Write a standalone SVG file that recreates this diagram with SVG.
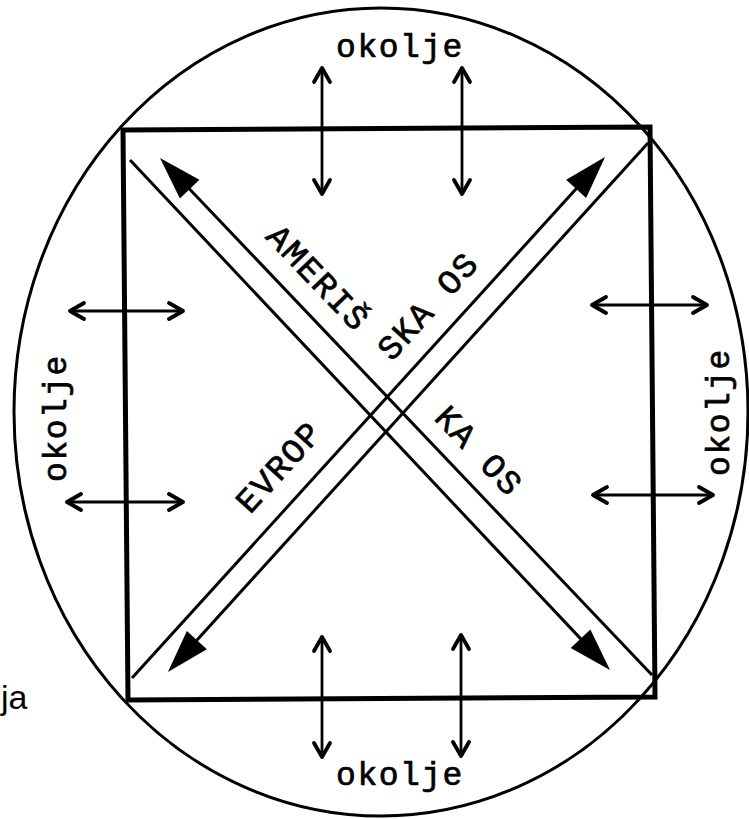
<svg xmlns="http://www.w3.org/2000/svg" width="749" height="819" viewBox="0 0 749 819">
  <style>
    .outline { fill: none; stroke: #000; }
    .axis { fill: none; stroke: #000; stroke-width: 3; marker-end: url(#bigHead); }
    .env { fill: none; stroke: #000; stroke-width: 2.8; marker-start: url(#chev); marker-end: url(#chev); }
    .mono { font-family: "Liberation Mono", "DejaVu Sans Mono", monospace; fill: #000; stroke: #000; stroke-width: 0.7px; }
    .okolje { font-size: 33px; letter-spacing: 1.5px; }
    .axlabel { font-size: 34px; letter-spacing: 1.6px; }
    .sans { font-family: "Liberation Sans", Arial, sans-serif; font-size: 34px; fill: #000; }
  </style>
  <defs>
    <marker id="bigHead" markerUnits="userSpaceOnUse" markerWidth="50" markerHeight="30" refX="23" refY="13.5" orient="auto" overflow="visible">
      <path d="M0,0 L43,13.5 L0,27 Z" fill="#000"/>
    </marker>
    <marker id="chev" markerUnits="userSpaceOnUse" markerWidth="24" markerHeight="24" refX="16" refY="10" orient="auto-start-reverse" overflow="visible">
      <path d="M2,2 L16,10 L2,18" fill="none" stroke="#000" stroke-width="3.8" stroke-linejoin="round" stroke-linecap="round"/>
    </marker>
  </defs>
  <rect width="749" height="819" fill="#fff"/>

  <g id="environment-boundary">
    <ellipse class="outline" cx="381" cy="412" rx="367" ry="404" stroke-width="3"/>
  </g>

  <g id="system-square">
    <polygon class="outline" points="123,130 650,127 655,697 128,700" stroke-width="5" stroke-linejoin="miter"/>
  </g>

  <g id="connectors">
    <g id="axes">
      <path class="axis" d="M652,675 L173.8,172.5"/>
      <path class="axis" d="M130,160 L596.3,655.4"/>
      <path class="axis" d="M132,678 L591.6,171.8"/>
      <path class="axis" d="M648,143 L181.4,657.2"/>
    </g>
    <g id="environment-arrows">
      <path class="env" d="M322,68 L322,194"/>
      <path class="env" d="M462,68 L462,194"/>
      <path class="env" d="M322,637 L322,757"/>
      <path class="env" d="M461,635 L461,756"/>
      <path class="env" d="M70,311 L183,311"/>
      <path class="env" d="M67,502 L183,502"/>
      <path class="env" d="M592,305 L707,305"/>
      <path class="env" d="M593,495 L713,495"/>
    </g>
  </g>

  <g id="label-okolje-top">
    <text class="mono okolje" x="400" y="57" text-anchor="middle">okolje</text>
  </g>
  <g id="label-okolje-bottom">
    <text class="mono okolje" x="400" y="785" text-anchor="middle">okolje</text>
  </g>
  <g id="label-okolje-left">
    <text class="mono okolje" transform="translate(66,418) rotate(-90)" x="0" y="0" text-anchor="middle">okolje</text>
  </g>
  <g id="label-okolje-right">
    <text class="mono okolje" transform="translate(729,412) rotate(-90)" x="0" y="0" text-anchor="middle">okolje</text>
  </g>

  <g id="label-americka-os">
    <text class="mono axlabel" transform="translate(318,278) rotate(46.4)" x="0" y="11" text-anchor="middle">AMERIŠ</text>
    <text class="mono axlabel" transform="translate(479,451) rotate(46.4)" x="0" y="11" text-anchor="middle">KA OS</text>
  </g>
  <g id="label-evropska-os">
    <text class="mono axlabel" transform="translate(279,467) rotate(-47.7)" x="0" y="11" text-anchor="middle">EVROP</text>
    <text class="mono axlabel" transform="translate(428,306) rotate(-47.7)" x="0" y="11" text-anchor="middle">SKA OS</text>
  </g>

  <g id="label-ja">
    <text class="sans" x="1" y="709">ja</text>
  </g>
</svg>
